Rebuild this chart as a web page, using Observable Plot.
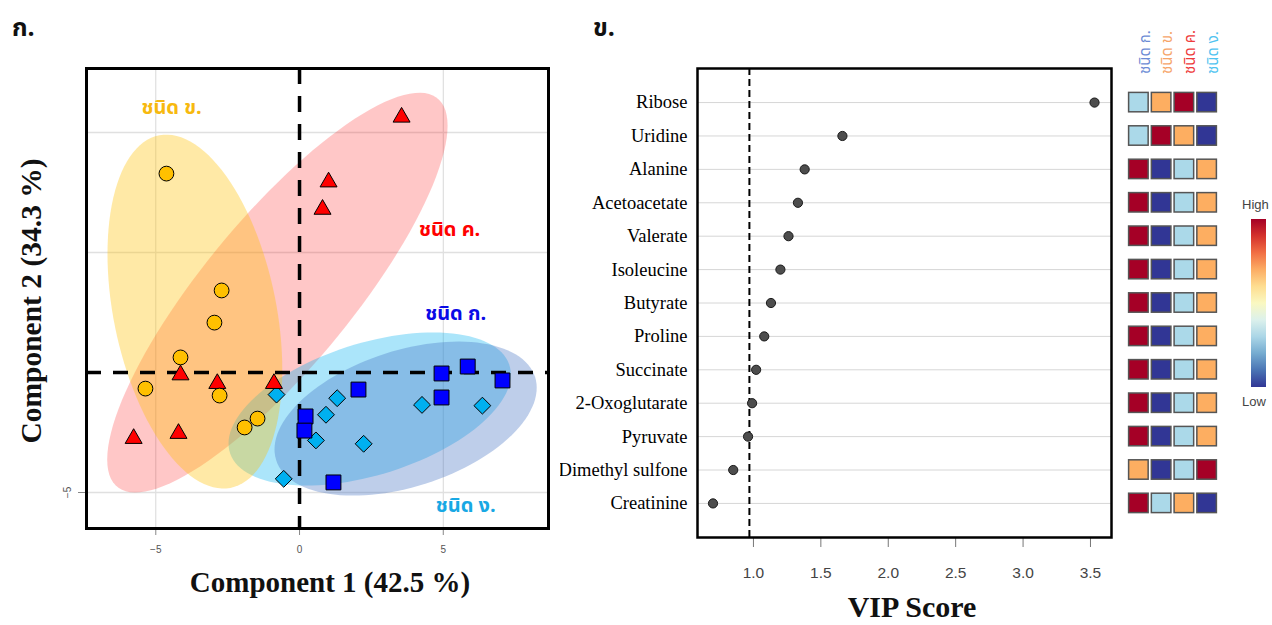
<!DOCTYPE html>
<html><head><meta charset="utf-8">
<script src="https://cdn.jsdelivr.net/npm/d3@7"></script>
<script src="https://cdn.jsdelivr.net/npm/@observablehq/plot@0.6"></script>
<style>
html,body{margin:0;padding:0;background:#fff;}
#root{position:relative;width:1272px;height:625px;overflow:hidden;background:#fff;}
.abs{position:absolute;white-space:nowrap;}
.thai{font-family:"Noto Sans Thai","Noto Serif Thai","Loma","Garuda","Tlwg Typo","Sarabun","Tahoma","Noto Sans","DejaVu Sans",sans-serif;}
.serif{font-family:"Liberation Serif","Times New Roman",serif;}
</style></head><body>
<div id="root"></div>
<script>
// ---------- DATA ----------
const groupNames = ["ชนิด ก.", "ชนิด ข.", "ชนิด ค.", "ชนิด ง."];

// Score plot (Component 1 vs Component 2)
const gA_x = [4.94, 5.85, 7.06, 2.05, 4.94, 0.21, 0.17, 1.18];      // ชนิด ก. squares
const gA_y = [-0.04, 0.25, -0.33, -0.71, -1.04, -1.83, -2.42, -4.58];
const gB_x = [-4.63, -2.71, -2.96, -4.14, -5.36, -2.78, -1.46, -1.91]; // ชนิด ข. circles
const gB_y = [8.29, 3.42, 2.08, 0.63, -0.67, -0.96, -1.92, -2.29];
const gC_x = [3.55, 1.01, 0.80, -2.86, -4.14, -0.89, -5.77, -4.21];   // ชนิด ค. triangles
const gC_y = [10.64, 7.94, 6.80, -0.46, -0.10, -0.46, -2.75, -2.54];
const gD_x = [-0.80, 1.31, 0.92, 0.57, 2.23, 4.26, 6.36, -0.55];      // ชนิด ง. diamonds
const gD_y = [-0.92, -1.07, -1.76, -2.83, -2.97, -1.35, -1.38, -4.43];

// confidence ellipses (drawing order)
const ellGroup = ["ชนิด ค.", "ชนิด ง.", "ชนิด ก.", "ชนิด ข."];
const ellCx  = [-0.77, 2.44, 3.69, -3.64];
const ellCy  = [3.33, -1.52, -1.92, 2.54];
const ellSdx = [5.92, 4.91, 4.56, 3.04];
const ellSdy = [8.33, 3.19, 3.21, 7.375];
const ellRho = [0.835, 0.45, 0.40, -0.326];

// VIP scores
const metabolites = ["Ribose","Uridine","Alanine","Acetoacetate","Valerate","Isoleucine","Butyrate","Proline","Succinate","2-Oxoglutarate","Pyruvate","Dimethyl sulfone","Creatinine"];
const vipScores = [3.53, 1.66, 1.38, 1.33, 1.26, 1.20, 1.13, 1.08, 1.02, 0.99, 0.96, 0.85, 0.70];
const vipTicks = [1.0, 1.5, 2.0, 2.5, 3.0, 3.5];
const vipThreshold = 0.97;

// relative level (1 = low ... 4 = high) per metabolite for ก, ข, ค, ง
const heatRanks = [
  [2,3,4,1],[2,4,3,1],[4,1,2,3],[4,1,2,3],[4,1,2,3],[4,1,2,3],[4,1,2,3],
  [4,1,2,3],[4,1,2,3],[4,1,2,3],[4,1,2,3],[3,1,2,4],[4,2,3,1]
];

// ---------- STYLE ----------
const ptColor = {"ชนิด ก.": "#0000FF", "ชนิด ข.": "#FFC000", "ชนิด ค.": "#FF0000", "ชนิด ง.": "#00B0F0"};
const ellColor = {"ชนิด ก.": "#4472C4", "ชนิด ข.": "#FFC000", "ชนิด ค.": "#FF0000", "ชนิด ง.": "#00B0F0"};
const ellOpacity = {"ชนิด ก.": 0.35, "ชนิด ข.": 0.35, "ชนิด ค.": 0.22, "ชนิด ง.": 0.33};
const labelColor = {"ชนิด ก.": "#0A0AE6", "ชนิด ข.": "#F7B90F", "ชนิด ค.": "#FF0000", "ชนิด ง.": "#18A8E4"};
const headColor = ["#6C8CD5", "#F6A56A", "#EE3B3B", "#4FC3F0"];
const thaiFont = '"Noto Sans Thai","Noto Serif Thai","Loma","Garuda","Tlwg Typo","Sarabun","Tahoma","Noto Sans","DejaVu Sans",sans-serif';
const serifFont = '"Liberation Serif","Times New Roman",serif';
const sansFont = '"Liberation Sans",Arial,sans-serif';

const root = document.getElementById("root");
function place(node, left, top) {
  node.style.position = "absolute"; node.style.left = left + "px"; node.style.top = top + "px";
  root.appendChild(node);
}
function addText(txt, cls, css) {
  const d = document.createElement("div");
  d.className = "abs " + cls; d.textContent = txt;
  Object.assign(d.style, css);
  root.appendChild(d);
  return d;
}

// ---------- LEFT: score plot ----------
const toRows = (xs, ys, g) => xs.map((x, i) => ({x, y: ys[i], g}));
const ptsA = toRows(gA_x, gA_y, "ชนิด ก.");
const ptsB = toRows(gB_x, gB_y, "ชนิด ข.");
const ptsC = toRows(gC_x, gC_y, "ชนิด ค.");
const ptsD = toRows(gD_x, gD_y, "ชนิด ง.");

const angles = d3.range(0, 2 * Math.PI, Math.PI / 60);
const ellipseMarks = ellGroup.map((g, k) => {
  const s = Math.sqrt(1 - ellRho[k] * ellRho[k]);
  const poly = angles.map(t => ({
    x: ellCx[k] + ellSdx[k] * Math.cos(t),
    y: ellCy[k] + ellSdy[k] * (ellRho[k] * Math.cos(t) + s * Math.sin(t))
  }));
  return Plot.line(poly, {x: "x", y: "y", curve: "linear-closed", stroke: "none", fill: ellColor[g], fillOpacity: ellOpacity[g]});
});

// label anchor positions for the group names
const labelPos = [
  {g: "ชนิด ข.", x: -4.45, y: 11.04},
  {g: "ชนิด ค.", x: 5.22, y: 5.96},
  {g: "ชนิด ก.", x: 5.43, y: 2.46},
  {g: "ชนิด ง.", x: 5.78, y: -5.54}
];

const left = Plot.plot({
  width: 560, height: 625,
  marginLeft: 86, marginRight: 12, marginTop: 68, marginBottom: 97,
  x: {domain: [-7.41, 8.66]},
  y: {domain: [-6.5, 12.67]},
  style: {background: "transparent", fontFamily: sansFont},
  marks: [
    Plot.gridX([-5, 5], {stroke: "#d9d9d9", strokeOpacity: 1}),
    Plot.gridY([-5, 5, 10], {stroke: "#e0e0e0", strokeOpacity: 1, strokeWidth: 1.5}),
    ...ellipseMarks,
    Plot.ruleY([0], {stroke: "black", strokeWidth: 3.5, strokeDasharray: "15,12"}),
    Plot.ruleX([0], {stroke: "black", strokeWidth: 3.5, strokeDasharray: "16,12"}),
    Plot.dot(ptsD, {x: "x", y: "y", symbol: "diamond2", r: 7.6, fill: ptColor["ชนิด ง."], stroke: "black", strokeWidth: 1}),
    Plot.dot(ptsA, {x: "x", y: "y", symbol: "square", r: 8.4, fill: ptColor["ชนิด ก."], stroke: "black", strokeWidth: 1}),
    Plot.dot(ptsC, {x: "x", y: "y", symbol: "triangle", r: 6.3, fill: ptColor["ชนิด ค."], stroke: "black", strokeWidth: 1}),
    Plot.dot(ptsB, {x: "x", y: "y", symbol: "circle", r: 7.4, fill: ptColor["ชนิด ข."], stroke: "black", strokeWidth: 1}),
    Plot.text(labelPos, {x: "x", y: "y", text: "g", fill: d => labelColor[d.g], fontSize: 20, fontWeight: "bold", fontFamily: thaiFont}),
    Plot.axisX([-5, 0, 5], {tickSize: 7, tickPadding: 10, fontSize: 10, stroke: "#888", fill: "#555", label: null}),
    Plot.axisY([-5], {tickSize: 8, tickPadding: 8, tickRotate: -90, fontSize: 10, stroke: "#888", fill: "#555", label: null}),
    Plot.frame({stroke: "black", strokeWidth: 3})
  ]
});
place(left, 0, 0);

// ---------- RIGHT: VIP plot ----------
const vipData = metabolites.map((m, i) => ({m, v: vipScores[i]}));
const vip = Plot.plot({
  width: 560, height: 625,
  marginLeft: 137, marginRight: 9, marginTop: 68, marginBottom: 88,
  x: {domain: [0.585, 3.656]},
  y: {type: "point", domain: metabolites, padding: 1.02, round: false},
  style: {background: "transparent", fontFamily: sansFont},
  marks: [
    Plot.gridY(metabolites, {stroke: "#d6d6d6", strokeOpacity: 1}),
    Plot.ruleX([vipThreshold], {stroke: "black", strokeWidth: 2, strokeDasharray: "7,4"}),
    Plot.dot(vipData, {x: "v", y: "m", r: 4.6, fill: "#4d4d4d", stroke: "#1a1a1a", strokeWidth: 1}),
    Plot.axisY({tickSize: 0, tickPadding: 10, fontSize: 18.5, fontFamily: serifFont, fill: "black", label: null}),
    Plot.axisX(vipTicks, {tickSize: 10, tickPadding: 19, tickFormat: d3.format(".1f"), fontSize: 15.5, stroke: "#777", fill: "#444", label: null}),
    Plot.frame({stroke: "black", strokeWidth: 2.5})
  ]
});
place(vip, 560, 0);

// ---------- heatmap ----------
const cells = [];
metabolites.forEach((m, i) => groupNames.forEach((g, j) => cells.push({m, g, r: heatRanks[i][j]})));
const heat = Plot.plot({
  width: 100, height: 625,
  marginLeft: 7, marginRight: 2, marginTop: 85.4, marginBottom: 105.4,
  x: {type: "band", domain: groupNames, padding: 0, round: false, axis: null},
  y: {type: "band", domain: metabolites, padding: 0, round: false, axis: null},
  color: {type: "ordinal", domain: [1, 2, 3, 4], range: ["#313695", "#ABD9E9", "#FDAE61", "#A50026"]},
  style: {background: "transparent", overflow: "visible"},
  marks: [
    Plot.cell(cells, {x: "g", y: "m", fill: "r", stroke: "#555", strokeWidth: 1.5, insetLeft: 1.6, insetRight: 1.6, insetTop: 7, insetBottom: 7}),
    ...groupNames.map((g, j) => Plot.text([g], {x: d => d, frameAnchor: "top", dy: -12, rotate: -90, textAnchor: "start", fill: headColor[j], fontSize: 15, fontFamily: thaiFont}))
  ]
});
place(heat, 1120, 0);

// ---------- colour legend ----------
const bar = document.createElement("div");
const stops = d3.range(0, 1.0001, 0.1).map(t => d3.interpolateRdYlBu(t) + " " + (t * 100).toFixed(0) + "%");
Object.assign(bar.style, {width: "15px", height: "168px", background: "linear-gradient(to bottom," + stops.join(",") + ")"});
place(bar, 1251, 219);
addText("High", "", {left: "1242px", top: "197px", fontSize: "13px", color: "#444", fontFamily: sansFont});
addText("Low", "", {left: "1242px", top: "394px", fontSize: "13px", color: "#444", fontFamily: sansFont});

// ---------- titles ----------
addText("ก.", "thai", {left: "12px", top: "9px", fontSize: "25px", fontWeight: "bold", color: "#111"});
addText("ข.", "thai", {left: "593px", top: "9px", fontSize: "25px", fontWeight: "bold", color: "#111"});
addText("Component 1 (42.5 %)", "serif", {left: "330px", top: "582px", transform: "translate(-50%,-50%)", fontSize: "29px", fontWeight: "bold", color: "#111"});
addText("Component 2 (34.3 %)", "serif", {left: "31px", top: "301px", transform: "translate(-50%,-50%) rotate(-90deg)", fontSize: "29.5px", fontWeight: "bold", color: "#111"});
addText("VIP Score", "serif", {left: "912px", top: "607px", transform: "translate(-50%,-50%)", fontSize: "30px", fontWeight: "bold", color: "#111"});
</script>
</body></html>
